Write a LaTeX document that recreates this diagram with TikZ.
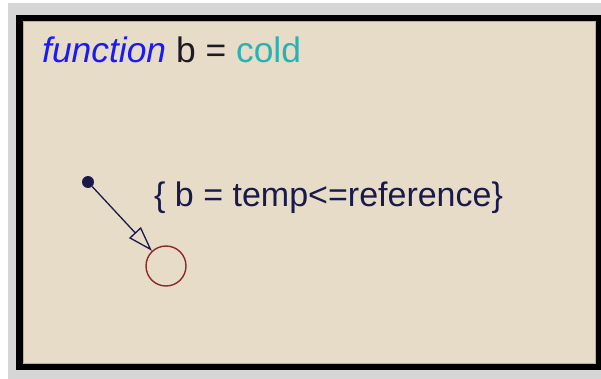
\documentclass[tikz,border=0pt]{standalone}
\usepackage{fontspec}
\setmainfont{Liberation Sans}
\usetikzlibrary{arrows.meta}
\definecolor{bggrey}{HTML}{D6D6D6}
\definecolor{beige}{HTML}{E6DCC8}
\definecolor{beigeedge}{HTML}{B8B0A0}
\definecolor{kwblue}{HTML}{1A1AF5}
\definecolor{teal}{HTML}{2AB2B2}
\definecolor{navy}{HTML}{1A1A4A}
\definecolor{dark}{HTML}{1E1A24}
\definecolor{darkred}{HTML}{8B2A2A}
\tikzset{
  lbl/.style={inner sep=0pt, anchor=base west, font=\fontsize{34}{40}\selectfont},
  hdrlbl/.style={inner sep=0pt, anchor=base west, font=\fontsize{35.4}{42}\selectfont},
  statecirc/.style={circle, draw=darkred, line width=1.4pt, minimum size=40pt, inner sep=0pt},
  defdot/.style={circle, fill=navy, minimum size=12pt, inner sep=0pt},
  trans/.style={draw=navy, line width=1.3pt, -{Triangle[open, length=25pt, width=16pt, line width=1.3pt]}},
}
\begin{document}
\begin{tikzpicture}[x=1pt,y=-1pt]
\useasboundingbox (0,0) rectangle (601,379);
\fill[white] (0,0) rectangle (601,379);
\fill[bggrey] (8,3) rectangle (601,379);
\fill[black] (16,15) rectangle (601,370);
\fill[beige, draw=beigeedge, line width=0.8pt] (23,21) rectangle (595,363);
\node[hdrlbl] (hdr) at (42,63) {\textcolor{kwblue}{\itshape function} \textcolor{dark}{b =} \textcolor{teal}{cold}};
\node[lbl, text=navy] (act) at (154,207) {\{ b = temp<=reference\}};
\node[defdot] (d) at (88,182) {};
\node[statecirc] (s) at (166,266) {};
\draw[trans] (d) -- (s);
\end{tikzpicture}
\end{document}
